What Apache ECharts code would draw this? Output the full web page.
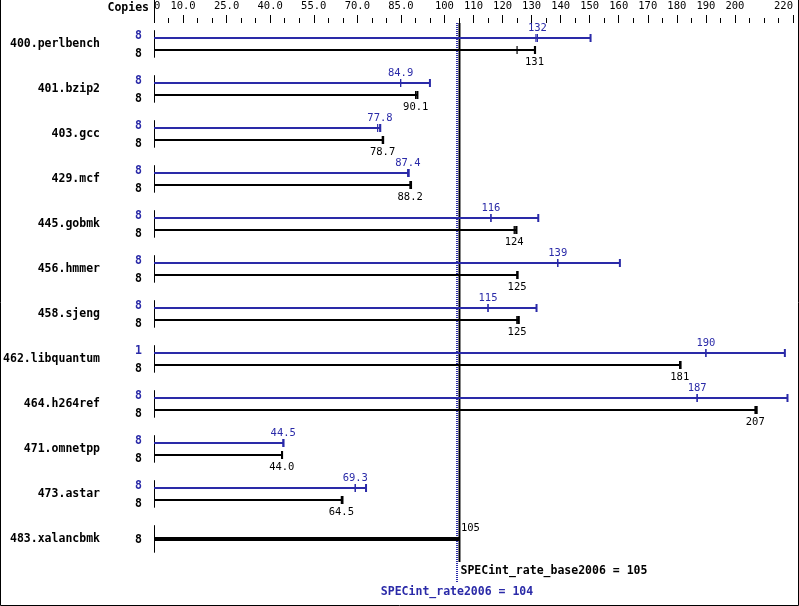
<!DOCTYPE html>
<html><head><meta charset="utf-8">
<script src="https://cdn.jsdelivr.net/npm/echarts@6/dist/echarts.min.js"></script>
<style>html,body{margin:0;padding:0;background:#fff}#c{width:799px;height:606px}</style>
</head><body><div id="c"></div>
<script>
// ---- data ----
const benchmarks = ['400.perlbench','401.bzip2','403.gcc','429.mcf','445.gobmk','456.hmmer','458.sjeng','462.libquantum','464.h264ref','471.omnetpp','473.astar','483.xalancbmk'];
const peakCopies = [8,8,8,8,8,8,8,1,8,8,8,null];
const baseCopies = [8,8,8,8,8,8,8,8,8,8,8,8];
const peakScore = [132,84.9,77.8,87.4,116,139,115,190,187,44.5,69.3,null];
const peakLow   = [131.5,84.9,77.0,87.4,116,139,115,190,187,44.5,69.3,null];
const peakHigh  = [150.3,95.0,77.9,87.7,132.3,160.4,131.7,217.2,218.1,44.6,73.0,null];
const baseScore = [131,90.1,78.7,88.2,124,125,125,181,207,44.0,64.5,105];
const baseLow   = [125,90.1,78.6,88.2,124.3,125,125,181,207,44.0,64.6,105];
const baseHigh  = [131.2,90.7,78.9,88.5,124.8,125.2,125.6,181.3,207.5,44.1,64.9,105];
const overallBase = 105;
const overallPeak = 104;
const tickLabels = [0,10,25,40,55,70,85,100,110,120,130,140,150,160,170,180,190,200,220];
const minorTicks = [0,5,10,15,20,25,30,35,40,45,50,55,60,65,70,75,80,85,90,95,100,105,110,115,120,125,130,135,140,145,150,155,160,165,170,175,180,185,190,195,200,205,210,215,220];

// ---- styles ----
const BLUE = '#2a2aa8', BLACK = '#000';
const MONO = '"DejaVu Sans Mono", "Liberation Mono", monospace';
const OFF = 0.131;
const fmt = v => (v === 0 ? '0' : (v < 100 ? v.toFixed(1) : String(Math.round(v))));

const barData = [];
benchmarks.forEach((b, i) => {
  if (peakScore[i] != null) {
    barData.push([i, 0, peakScore[i], peakLow[i], peakHigh[i], peakCopies[i]]);
    barData.push([i, 1, baseScore[i], baseLow[i], baseHigh[i], baseCopies[i]]);
  } else {
    barData.push([i, 2, baseScore[i], baseLow[i], baseHigh[i], baseCopies[i]]);
  }
});

function vline(x, y1, y2, color, lw) {
  return {type:'line', shape:{x1:x, y1:y1, x2:x, y2:y2}, style:{stroke:color, lineWidth:lw}};
}

function renderBar(params, api) {
  const row = api.value(0), kind = api.value(1);
  const score = api.value(2), low = api.value(3), high = api.value(4), copies = api.value(5);
  const yv = kind === 0 ? row - OFF : (kind === 1 ? row + OFF : row);
  const color = kind === 0 ? BLUE : BLACK;
  const p0 = api.coord([0, yv]);
  const y = Math.round(p0[1]);
  const xh = api.coord([high, yv])[0];
  const ch = [];
  ch.push({type:'line', shape:{x1:p0[0], y1:y, x2:xh, y2:y}, style:{stroke:color, lineWidth: kind === 2 ? 4 : 2}});
  if (kind !== 2) {
    ch.push(vline(xh, y - 4, y + 4, color, 2));
    const xl = api.coord([low, yv])[0];
    const xs = api.coord([score, yv])[0];
    ch.push(vline(xl, y - 4, y + 4, color, 1.2));
    ch.push(vline(xs, y - 4, y + 4, color, 1.2));
    ch.push({type:'text', style:{text: fmt(score), x: xs, y: kind === 0 ? y - 10 : y + 12,
      align:'center', verticalAlign:'middle', fill: color, font: '10.5px ' + MONO}});
  } else {
    ch.push({type:'text', style:{text: fmt(score), x: xh + 2, y: y - 11,
      align:'left', verticalAlign:'middle', fill: BLACK, font: '10.5px ' + MONO}});
  }
  const cy = kind === 0 ? y - 2 : (kind === 1 ? y + 4 : y + 1);
  ch.push({type:'text', style:{text: String(copies), x: p0[0] - 15.5, y: cy,
    align:'center', verticalAlign:'middle', fill: color, font: 'bold 11.5px ' + MONO}});
  return {type:'group', children: ch};
}

function renderRow(params, api) {
  const row = api.value(0);
  const p = api.coord([0, row]);
  const x = Math.round(p[0]) + 0.5;
  return {type:'group', children:[
    vline(x, p[1] - 13.5, p[1] + 14, BLACK, 1),
    {type:'text', style:{text: benchmarks[row], x: p[0] - 54, y: p[1], align:'right', verticalAlign:'middle',
      fill: BLACK, font: 'bold 11.5px ' + MONO}}
  ]};
}

function renderRef(params, api) {
  const top = Math.round(api.coord([overallBase, -0.47])[1]);
  const xb = api.coord([overallBase, 0])[0] + 0.5;
  const xp = Math.round(api.coord([overallPeak, 0])[0]) + 1;
  const yb = api.coord([0, 11.52])[1];
  const yp = Math.round(api.coord([0, 11.99])[1]);
  return {type:'group', children:[
    {type:'line', shape:{x1:xp, y1:top, x2:xp, y2:yp}, style:{stroke:BLUE, lineWidth:2, lineDash:[1,1]}},
    vline(xb, top, yb, BLACK, 2),
    {type:'text', style:{text:'SPECint_rate_base2006 = ' + overallBase, x: xb + 1, y: yb + 8.5, align:'left', verticalAlign:'middle',
      fill: BLACK, font: 'bold 11.5px ' + MONO}},
    {type:'text', style:{text:'SPECint_rate2006 = ' + overallPeak, x: xp, y: yp + 9, align:'center', verticalAlign:'middle',
      fill: BLUE, font: 'bold 11.5px ' + MONO}}
  ]};
}

const chart = echarts.init(document.getElementById('c'), null, {renderer:'canvas'});
chart.setOption({
  backgroundColor:'#fff',
  animation:false,
  grid:{left:154, right:6, top:23, bottom:26.8, containLabel:false},
  xAxis:[
    {type:'value', position:'top', min:0, max:220, axisLine:{show:false, onZero:false}, splitLine:{show:false},
     axisTick:{show:true, length:5, customValues:minorTicks, lineStyle:{color:BLACK, width:1}},
     axisLabel:{show:false}},
    {type:'value', position:'top', min:0, max:220, axisLine:{show:false, onZero:false}, splitLine:{show:false},
     axisTick:{show:true, length:8, customValues:tickLabels, lineStyle:{color:BLACK, width:1}},
     axisLabel:{show:true, customValues:tickLabels, formatter: v => fmt(v), margin:11, color:BLACK,
       fontFamily: MONO, fontSize:10.5, alignMinLabel:'left', alignMaxLabel:'right'}}
  ],
  yAxis:{type:'value', inverse:true, min:-0.46, max:11.9, show:false, axisLine:{onZero:false}},
  graphic:[
    {type:'line', shape:{x1:154.5, y1:0, x2:154.5, y2:23}, style:{stroke:BLACK, lineWidth:1}},
    {type:'text', style:{text:'Copies', x:149, y:8, align:'right', verticalAlign:'middle', fill:BLACK, font:'bold 11.5px ' + MONO}},
    {type:'polyline', shape:{points:[[0.5,0],[0.5,605.5],[798.5,605.5],[798.5,0]]}, style:{stroke:BLACK, lineWidth:1, fill:null}}
  ],
  series:[
    {type:'custom', xAxisIndex:0, yAxisIndex:0, renderItem:renderRow, clip:false,
     data: benchmarks.map((b, i) => [i])},
    {type:'custom', xAxisIndex:0, yAxisIndex:0, renderItem:renderRef, clip:false, data:[[0]], z:3},
    {type:'custom', xAxisIndex:0, yAxisIndex:0, renderItem:renderBar, clip:false, data:barData, z:4}
  ]
});
</script></body></html>
